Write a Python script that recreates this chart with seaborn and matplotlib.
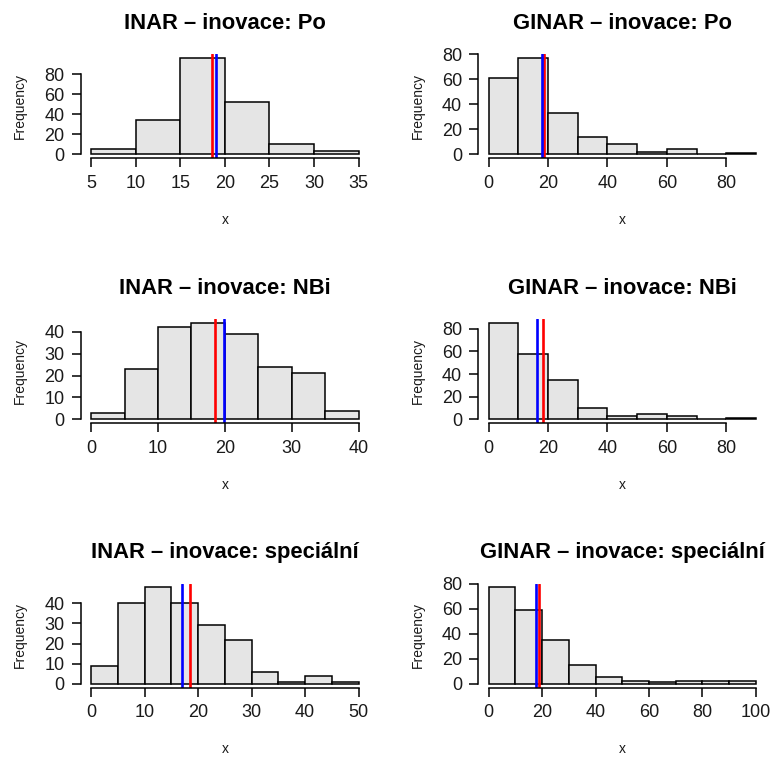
import numpy as np
import pandas as pd
import matplotlib
matplotlib.use("Agg")
import matplotlib.pyplot as plt
import seaborn as sns

# ---- data ----
titles = [
    "INAR – inovace: Po", "GINAR – inovace: Po",
    "INAR – inovace: NBi", "GINAR – inovace: NBi",
    "INAR – inovace: speciální", "GINAR – inovace: speciální",
]
breaks_inar_po = [5, 10, 15, 20, 25, 30, 35]
counts_inar_po = [5, 34, 96, 52, 10, 3]
breaks_ginar_po = [0, 10, 20, 30, 40, 50, 60, 70, 80, 90]
counts_ginar_po = [61, 77, 33, 14, 8, 2, 4, 0, 1]
breaks_inar_nbi = [0, 5, 10, 15, 20, 25, 30, 35, 40]
counts_inar_nbi = [3, 23, 42, 44, 39, 24, 21, 4]
breaks_ginar_nbi = [0, 10, 20, 30, 40, 50, 60, 70, 80, 90]
counts_ginar_nbi = [85, 58, 35, 10, 3, 5, 3, 0, 1]
breaks_inar_spec = [0, 5, 10, 15, 20, 25, 30, 35, 40, 45, 50]
counts_inar_spec = [9, 40, 48, 40, 29, 22, 6, 1, 4, 1]
breaks_ginar_spec = [0, 10, 20, 30, 40, 50, 60, 70, 80, 90, 100]
counts_ginar_spec = [77, 59, 35, 15, 5, 2, 1, 2, 2, 2]

red_lines = [18.55, 18.7, 18.55, 18.45, 18.5, 18.65]
blue_lines = [19.05, 18.0, 19.8, 16.3, 17.0, 17.85]

xticks_list = [
    [5, 10, 15, 20, 25, 30, 35], [0, 20, 40, 60, 80],
    [0, 10, 20, 30, 40], [0, 20, 40, 60, 80],
    [0, 10, 20, 30, 40, 50], [0, 20, 40, 60, 80, 100],
]
yticks_list = [
    [0, 20, 40, 60, 80], [0, 20, 40, 60, 80],
    [0, 10, 20, 30, 40], [0, 20, 40, 60, 80],
    [0, 10, 20, 30, 40], [0, 20, 40, 60, 80],
]

breaks_all = [breaks_inar_po, breaks_ginar_po, breaks_inar_nbi,
              breaks_ginar_nbi, breaks_inar_spec, breaks_ginar_spec]
counts_all = [counts_inar_po, counts_ginar_po, counts_inar_nbi,
              counts_ginar_nbi, counts_inar_spec, counts_ginar_spec]

# ---- style ----
sns.set_style("white")
plt.rcParams["font.family"] = ["Liberation Sans", "DejaVu Sans"]

W, H = 771, 758
fig = plt.figure(figsize=(W / 100, H / 100), dpi=100)

col_left = [80.6, 478.0]
row_top = [54.2, 319.2, 583.5]
aw, ah = 288.6, 104.0

for i in range(6):
    r, c = divmod(i, 2)
    left = col_left[c] / W
    bottom = 1 - (row_top[r] + ah) / H
    ax = fig.add_axes([left, bottom, aw / W, ah / H])

    br = [float(b) for b in breaks_all[i]]
    cnt = [float(v) for v in counts_all[i]]
    mids = [(br[k] + br[k + 1]) / 2 for k in range(len(cnt))]
    df = pd.DataFrame({"x": mids, "w": cnt})
    sns.histplot(data=df, x="x", weights="w", bins=br, stat="count",
                 color="#E5E5E5", edgecolor="black", linewidth=1.1,
                 alpha=1, ax=ax)

    ax.axvline(red_lines[i], color="#FF0000", lw=1.9)
    ax.axvline(blue_lines[i], color="#0000FF", lw=1.9)

    rng = br[-1] - br[0]
    ax.set_xlim(br[0] - 0.04 * rng, br[-1] + 0.04 * rng)
    mx = max(cnt)
    ax.set_ylim(-0.04 * mx, 1.04 * mx)

    xt, yt = xticks_list[i], yticks_list[i]
    ax.set_xticks(xt)
    ax.set_yticks(yt)
    ax.set_xticklabels([str(v) for v in xt])
    ax.set_yticklabels([str(v) for v in yt])

    for s in ["top", "right"]:
        ax.spines[s].set_visible(False)
    ax.spines["left"].set_bounds(yt[0], yt[-1])
    ax.spines["bottom"].set_bounds(xt[0], xt[-1])
    for s in ["left", "bottom"]:
        ax.spines[s].set_linewidth(1.1)
        ax.spines[s].set_color("black")

    ax.tick_params(axis="both", direction="out", length=6.2, width=1.1,
                   color="black", labelcolor="#1a1a1a",
                   bottom=True, left=True, top=False, right=False)
    ax.tick_params(axis="x", labelsize=13, pad=6.0)
    ax.tick_params(axis="y", labelsize=13, pad=5.3)

    ax.set_xlabel("")
    ax.set_ylabel("")
    ax.set_title(titles[i], fontsize=15.8, fontweight="bold", pad=18.5,
                 color="black")
    ax.text(-0.21, 0.5, "Frequency", transform=ax.transAxes, rotation=90,
            ha="center", va="center", fontsize=10, color="#1a1a1a")
    ax.text(0.5, -0.596, "x", transform=ax.transAxes,
            ha="center", va="center", fontsize=10, color="#1a1a1a")
    ax.set_facecolor("white")

fig.savefig("out.png", dpi=100, facecolor="white")
